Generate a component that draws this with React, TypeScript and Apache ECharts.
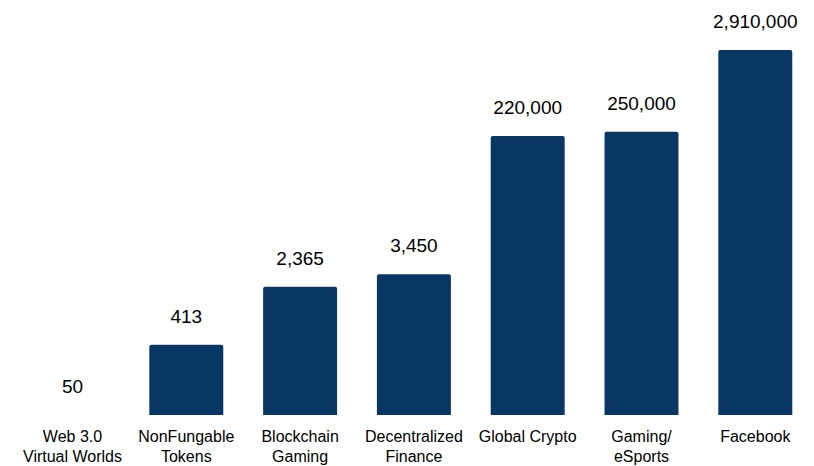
import React, { useEffect, useRef } from "react";
import * as echarts from "echarts";

const categories = [
  "Web 3.0\nVirtual Worlds",
  "NonFungable\nTokens",
  "Blockchain\nGaming",
  "Decentralized\nFinance",
  "Global Crypto",
  "Gaming/\neSports",
  "Facebook",
];
const values = [50, 413, 2365, 3450, 220000, 250000, 2910000];

export default function App() {
  const ref = useRef<HTMLDivElement>(null);
  useEffect(() => {
    const chart = echarts.init(ref.current!, null, { renderer: "svg" });
    chart.setOption({
      animation: false,
      grid: { left: 15.6, right: 1.8, top: 32, bottom: 47, containLabel: false },
      xAxis: {
        type: "category",
        data: categories,
        axisLine: { show: false },
        axisTick: { show: false },
        axisLabel: {
          fontFamily: "Liberation Sans, Arial, sans-serif",
          fontSize: 16,
          lineHeight: 20,
          color: "#000",
          margin: 11,
          interval: 0,
        },
      },
      yAxis: {
        type: "log",
        logBase: 10,
        min: 50,
        max: 5000000,
        show: false,
        splitLine: { show: false },
      },
      series: [
        {
          type: "bar",
          data: values,
          barCategoryGap: "35%",
          itemStyle: { color: "#083763", borderRadius: [2, 2, 0, 0] },
          label: {
            show: true,
            position: "top",
            distance: 19,
            fontFamily: "Liberation Sans, Arial, sans-serif",
            fontSize: 19,
            color: "#000",
            formatter: (p: any) => Number(p.value).toLocaleString("en-US"),
          },
        },
      ],
    });
    return () => chart.dispose();
  }, []);
  return (
    <div
      ref={ref}
      style={{ position: "fixed", left: 0, top: 0, width: 814, height: 466, background: "#fff" }}
    />
  );
}
